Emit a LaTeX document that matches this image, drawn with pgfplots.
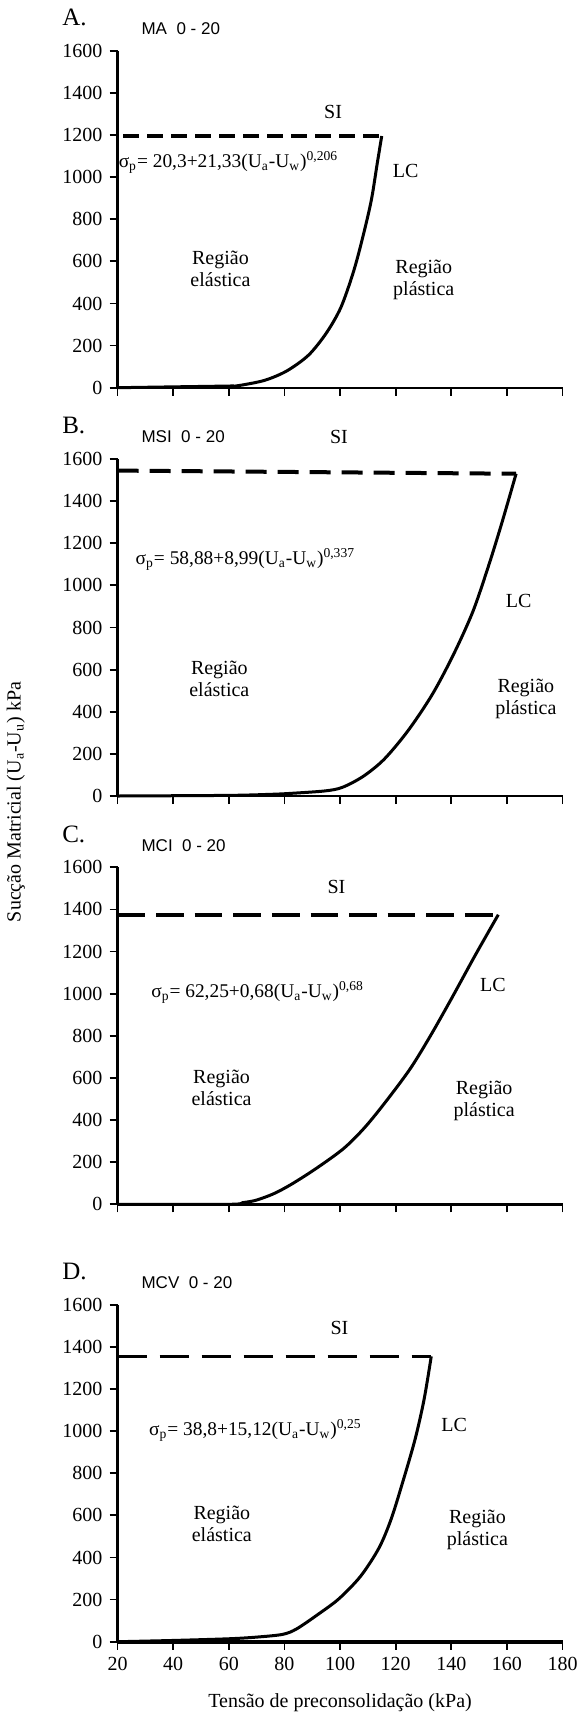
\documentclass[border=0pt]{standalone}
\usepackage{fontspec}
\setmainfont{Liberation Serif}
\newfontfamily\arialfont{Liberation Sans}
\usepackage{pgfplots}
\pgfplotsset{compat=1.18}

\pgfplotsset{
  panel/.style={
    scale only axis, width=222.5pt, height=168.5pt,
    anchor=south west,
    xmin=20, xmax=180, ymin=0, ymax=1600,
    axis lines=left,
    axis line style={-, line width=1.2pt},
    xtick={20,40,...,180}, ytick={0,200,...,1600},
    xticklabels={20,40,60,80,100,120,140,160,180},
    yticklabels={0,200,400,600,800,1000,1200,1400,1600},
    tick align=outside,
    major tick length=4pt,
    tick style={line width=0.9pt, black},
    tick label style={font=\rmfamily\fontsize{10}{12}\selectfont},
    clip=false,
  },
}
\tikzset{
  lc/.style={line width=1.5pt, black, smooth, tension=0.5},
  lbl/.style={font=\fontsize{10}{11}\selectfont, align=center, inner sep=0pt},
  frm/.style={font=\fontsize{9.7}{11}\selectfont, anchor=west, inner sep=0pt},
}
\newcommand{\letter}[1]{\node[anchor=west, inner sep=0pt, font=\fontsize{12.5}{14}\selectfont] at (axis cs:0,1757) {#1};}
\newcommand{\sub}[1]{\node[anchor=west, inner sep=0pt, font=\arialfont\fontsize{8.5}{10}\selectfont] at (axis cs:28.5,1705) {#1};}

\begin{document}
\begin{tikzpicture}
\path (0,0) rectangle (289pt,-862pt);

% A
\begin{axis}[panel, at={(57.15pt,-193.85pt)}, xticklabels={}]
\addplot[line width=2pt, dash pattern=on 8pt off 4pt] coordinates {(22,1197) (115,1197)};
\addplot[lc] coordinates {
  (20,0) (40,4) (60,8) (63.5,10) (72.9,35) (80.9,80) (88.7,155) (95.1,260)
  (100.3,381) (104.7,545) (107.9,700) (111.2,887) (113.4,1067) (115,1195)};
\letter{A.}
\sub{MA\ \ 0 - 20}
\node[lbl] at (axis cs:97.5,1309) {SI};
\node[lbl] at (axis cs:123.6,1027) {LC};
\node[frm] at (axis cs:20.3,1070) {σ\textsubscript{p}= 20,3+21,33(U\textsubscript{a}-U\textsubscript{w})\textsuperscript{0,206}};
\node[lbl] at (axis cs:57,562) {Região\\elástica};
\node[lbl] at (axis cs:130.1,512) {Região\\plástica};
\end{axis}

% B
\begin{axis}[panel, at={(57.15pt,-398pt)}, xticklabels={}]
\addplot[line width=2pt, dash pattern=on 10.5pt off 5.5pt] coordinates {(20,1545) (163.3,1530)};
\addplot[lc] coordinates {
  (20,0) (60,3) (75,8) (81.6,12) (94.5,24) (100.8,41) (108.3,93) (115.9,175)
  (124.5,311) (133.2,483) (140.8,672) (147.8,877) (153.6,1101) (158.3,1302) (163.3,1530)};
\letter{B.}
\sub{MSI\ \ 0 - 20}
\node[lbl] at (axis cs:99.6,1705) {SI};
\node[lbl] at (axis cs:164.2,928) {LC};
\node[frm] at (axis cs:26.4,1124) {σ\textsubscript{p}= 58,88+8,99(U\textsubscript{a}-U\textsubscript{w})\textsuperscript{0,337}};
\node[lbl] at (axis cs:56.6,555) {Região\\elástica};
\node[lbl] at (axis cs:166.8,459) {Região\\plástica};
\end{axis}

% C
\begin{axis}[panel, at={(57.15pt,-602.15pt)}, xticklabels={}]
\addplot[line width=2pt, dash pattern=on 13.8pt off 5.5pt] coordinates {(20,1375) (156.9,1375)};
\addplot[lc] coordinates {
  (20,0) (60,0) (65,8) (69.7,19) (76.1,50) (82.5,95) (91.4,170) (101.3,265)
  (108.9,365) (116.6,490) (125.3,645) (132.5,800) (140,975) (148.5,1180) (156.9,1375)};
\letter{C.}
\sub{MCI\ \ 0 - 20}
\node[lbl] at (axis cs:98.7,1507) {SI};
\node[lbl] at (axis cs:155,1042) {LC};
\node[frm] at (axis cs:32,1005) {σ\textsubscript{p}= 62,25+0,68(U\textsubscript{a}-U\textsubscript{w})\textsuperscript{0,68}};
\node[lbl] at (axis cs:57.4,553) {Região\\elástica};
\node[lbl] at (axis cs:151.8,493) {Região\\plástica};
\end{axis}

% D
\begin{axis}[panel, at={(57.15pt,-820.85pt)},
  x axis line style={line width=2pt},
  xlabel={Tensão de preconsolidação (kPa)},
  xlabel style={at={(axis description cs:0.5,0)}, anchor=center, yshift=-30.5pt, font=\fontsize{10}{12}\selectfont}]
\addplot[line width=1.8pt, dash pattern=on 14.5pt off 6.5pt] coordinates {(20,1355) (132.8,1355)};
\addplot[lc] coordinates {
  (20,0) (40,6) (60,14) (70.1,22) (79.4,35) (84.4,61) (92,129) (99.6,204)
  (107.4,311) (114,445) (118.4,583) (122.7,765) (127,962) (130.2,1149) (132.8,1355)};
\letter{D.}
\sub{MCV\ \ 0 - 20}
\node[lbl] at (axis cs:99.8,1489) {SI};
\node[lbl] at (axis cs:141,1031) {LC};
\node[frm] at (axis cs:31.2,1003) {σ\textsubscript{p}= 38,8+15,12(U\textsubscript{a}-U\textsubscript{w})\textsuperscript{0,25}};
\node[lbl] at (axis cs:57.5,558) {Região\\elástica};
\node[lbl] at (axis cs:149.4,533) {Região\\plástica};
\end{axis}

\node[rotate=90, font=\fontsize{10}{12}\selectfont] at (6.25pt,-401pt) {Sucção Matricial (U\textsubscript{a}-U\textsubscript{u}) kPa};
\end{tikzpicture}
\end{document}
